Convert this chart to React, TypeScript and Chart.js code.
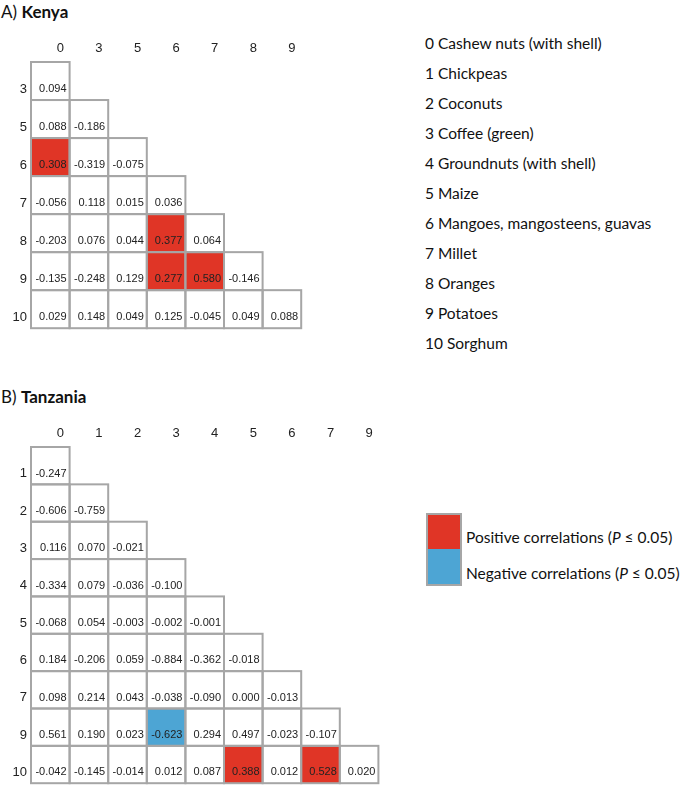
import React, { useEffect, useRef } from 'react';
import { Chart, registerables } from 'chart.js';

Chart.register(...registerables);

// ---------- data ----------
const kenyaCols = ['0', '3', '5', '6', '7', '8', '9'];
const kenyaRows = ['3', '5', '6', '7', '8', '9', '10'];
const kenyaValues = [
  [0.094],
  [0.088, -0.186],
  [0.308, -0.319, -0.075],
  [-0.056, 0.118, 0.015, 0.036],
  [-0.203, 0.076, 0.044, 0.377, 0.064],
  [-0.135, -0.248, 0.129, 0.277, 0.58, -0.146],
  [0.029, 0.148, 0.049, 0.125, -0.045, 0.049, 0.088],
];
// 1 = significant positive, -1 = significant negative, 0 = not significant
const kenyaSig = [
  [0],
  [0, 0],
  [1, 0, 0],
  [0, 0, 0, 0],
  [0, 0, 0, 1, 0],
  [0, 0, 0, 1, 1, 0],
  [0, 0, 0, 0, 0, 0, 0],
];

const tanzaniaCols = ['0', '1', '2', '3', '4', '5', '6', '7', '9'];
const tanzaniaRows = ['1', '2', '3', '4', '5', '6', '7', '9', '10'];
const tanzaniaValues = [
  [-0.247],
  [-0.606, -0.759],
  [0.116, 0.07, -0.021],
  [-0.334, 0.079, -0.036, -0.1],
  [-0.068, 0.054, -0.003, -0.002, -0.001],
  [0.184, -0.206, 0.059, -0.884, -0.362, -0.018],
  [0.098, 0.214, 0.043, -0.038, -0.09, 0.0, -0.013],
  [0.561, 0.19, 0.023, -0.623, 0.294, 0.497, -0.023, -0.107],
  [-0.042, -0.145, -0.014, 0.012, 0.087, 0.388, 0.012, 0.528, 0.02],
];
const tanzaniaSig = [
  [0],
  [0, 0],
  [0, 0, 0],
  [0, 0, 0, 0],
  [0, 0, 0, 0, 0],
  [0, 0, 0, 0, 0, 0],
  [0, 0, 0, 0, 0, 0, 0],
  [0, 0, 0, -1, 0, 0, 0, 0],
  [0, 0, 0, 0, 0, 1, 0, 1, 0],
];

const cropLabels = [
  '0 Cashew nuts (with shell)',
  '1 Chickpeas',
  '2 Coconuts',
  '3 Coffee (green)',
  '4 Groundnuts (with shell)',
  '5 Maize',
  '6 Mangoes, mangosteens, guavas',
  '7 Millet',
  '8 Oranges',
  '9 Potatoes',
  '10 Sorghum',
];

const POS_COLOR = '#E03526';
const NEG_COLOR = '#4DA5D4';
const GRID_COLOR = '#A6A6A6';
const TEXT_COLOR = '#222222';
const CELL = 38.6;
const ARIAL = '"Liberation Sans", Arial, sans-serif';
const CALIBRI = 'Lato, "Open Sans", sans-serif';

type MatrixProps = {
  cols: string[];
  rows: string[];
  values: number[][];
  sig: number[][];
  top: number;
  axisH: number;
  width: number;
  height: number;
};

function Matrix({ cols, rows, values, sig, top, axisH, width, height }: MatrixProps) {
  const ref = useRef<HTMLCanvasElement | null>(null);

  useEffect(() => {
    if (!ref.current) return;
    const axisW = 31;
    const padRight = width - axisW - cols.length * CELL;
    const padBottom = height - axisH - rows.length * CELL;

    const datasets = rows.map((r, ri) => ({
      label: r,
      data: cols.map((_, ci) => (ci < values[ri].length ? [ri, ri + 1] : null)),
      backgroundColor: cols.map((_, ci) => {
        const s = (sig[ri] && sig[ri][ci]) || 0;
        return s > 0 ? POS_COLOR : s < 0 ? NEG_COLOR : '#FFFFFF';
      }),
      borderWidth: 0,
      grouped: false,
      categoryPercentage: 1,
      barPercentage: 1,
      clip: false,
    }));

    const cellPlugin = {
      id: 'cellPlugin',
      afterDatasetsDraw(chart: any) {
        const ctx = chart.ctx;
        ctx.save();
        chart.data.datasets.forEach((ds: any, di: number) => {
          const meta = chart.getDatasetMeta(di);
          meta.data.forEach((bar: any, ci: number) => {
            if (!ds.data[ci]) return;
            const p = bar.getProps(['x', 'y', 'base', 'width'], true);
            const left = p.x - p.width / 2;
            const right = p.x + p.width / 2;
            const t = Math.min(p.y, p.base);
            const b = Math.max(p.y, p.base);
            ctx.strokeStyle = GRID_COLOR;
            ctx.lineWidth = 2;
            ctx.strokeRect(left, t, right - left, b - t);
          });
        });
        chart.data.datasets.forEach((ds: any, di: number) => {
          const meta = chart.getDatasetMeta(di);
          meta.data.forEach((bar: any, ci: number) => {
            if (!ds.data[ci]) return;
            const p = bar.getProps(['x', 'y', 'base', 'width'], true);
            const right = p.x + p.width / 2;
            const t = Math.min(p.y, p.base);
            const b = Math.max(p.y, p.base);
            ctx.fillStyle = TEXT_COLOR;
            ctx.font = `11px ${ARIAL}`;
            ctx.textAlign = 'right';
            ctx.textBaseline = 'middle';
            ctx.fillText(values[di][ci].toFixed(3), right - 3, t + (b - t) * 0.71);
          });
        });
        ctx.restore();
      },
    };

    const chart = new Chart(ref.current, {
      type: 'bar',
      data: { labels: cols, datasets: datasets as any },
      options: {
        animation: false,
        responsive: false,
        maintainAspectRatio: false,
        events: [],
        layout: { padding: { left: 0, top: 0, right: padRight, bottom: padBottom } },
        plugins: { legend: { display: false }, tooltip: { enabled: false }, title: { display: false } },
        scales: {
          x: {
            type: 'category',
            position: 'top',
            offset: true,
            grid: { display: false, drawTicks: false },
            border: { display: false },
            ticks: {
              padding: 6,
              labelOffset: 10,
              maxRotation: 0,
              autoSkip: false,
              color: TEXT_COLOR,
              font: { family: ARIAL, size: 13 },
            },
            afterFit: (s: any) => {
              s.height = axisH;
            },
          },
          y: {
            type: 'linear',
            min: 0,
            max: rows.length,
            reverse: true,
            grid: { display: false, drawTicks: false },
            border: { display: false },
            afterBuildTicks: (s: any) => {
              s.ticks = rows.map((_, i) => ({ value: i + 0.5 }));
            },
            afterFit: (s: any) => {
              s.width = axisW;
            },
            ticks: {
              padding: 4,
              labelOffset: 8,
              autoSkip: false,
              color: TEXT_COLOR,
              font: { family: ARIAL, size: 13 },
              callback: (v: any) => rows[Math.floor(Number(v))],
            },
          },
        },
      } as any,
      plugins: [cellPlugin],
    });
    return () => chart.destroy();
  }, []);

  return (
    <canvas
      ref={ref}
      width={width}
      height={height}
      style={{ position: 'absolute', left: 0, top, width, height }}
    />
  );
}

const legendTextStyle = {
  position: 'absolute' as const,
  height: 30,
  lineHeight: '30px',
  fontSize: 15.5,
  whiteSpace: 'nowrap' as const,
};

export default function App() {
  return (
    <div
      style={{
        position: 'absolute',
        left: 0,
        top: 0,
        width: 685,
        height: 795,
        background: '#FFFFFF',
        overflow: 'hidden',
        fontFamily: CALIBRI,
        color: '#111',
      }}
    >
      <div style={{ position: 'absolute', left: 1, top: 2, fontSize: 17, lineHeight: '20px' }}>
        A) <b>Kenya</b>
      </div>
      <div style={{ position: 'absolute', left: 1, top: 387, fontSize: 17, lineHeight: '20px' }}>
        B) <b>Tanzania</b>
      </div>

      <Matrix
        cols={kenyaCols}
        rows={kenyaRows}
        values={kenyaValues}
        sig={kenyaSig}
        top={0}
        axisH={62}
        width={320}
        height={340}
      />
      <Matrix
        cols={tanzaniaCols}
        rows={tanzaniaRows}
        values={tanzaniaValues}
        sig={tanzaniaSig}
        top={380}
        axisH={67}
        width={400}
        height={415}
      />

      {cropLabels.map((t, i) => (
        <div key={t} style={{ ...legendTextStyle, left: 425, top: 42.7 + i * 30.05 - 15 }}>
          {t}
        </div>
      ))}

      <div
        style={{
          position: 'absolute',
          left: 426,
          top: 512.5,
          width: 36,
          height: 73,
          boxSizing: 'border-box',
          border: `2px solid ${GRID_COLOR}`,
          background: `linear-gradient(${POS_COLOR} 0 50%, ${NEG_COLOR} 50% 100%)`,
        }}
      />
      <div style={{ ...legendTextStyle, left: 466, top: 536.5 - 15 }}>
        Positive correlations (<i>P</i> ≤ 0.05)
      </div>
      <div style={{ ...legendTextStyle, left: 466, top: 573.3 - 15 }}>
        Negative correlations (<i>P</i> ≤ 0.05)
      </div>
    </div>
  );
}
